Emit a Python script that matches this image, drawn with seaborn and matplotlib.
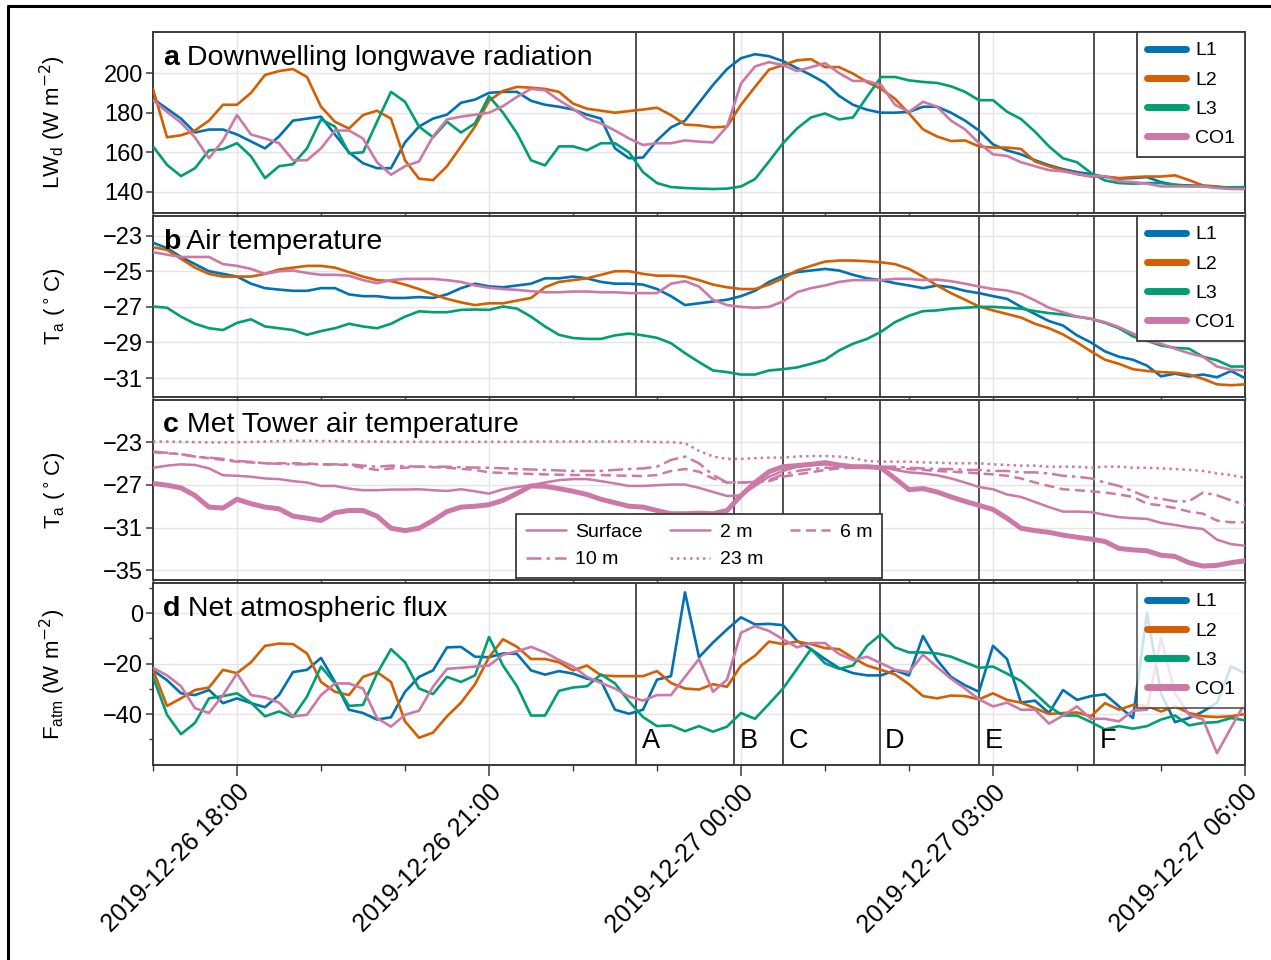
import matplotlib
matplotlib.use("Agg")
import matplotlib.pyplot as plt
import matplotlib.dates as mdates
import matplotlib.ticker as mticker
from matplotlib.lines import Line2D
import numpy as np
import pandas as pd
import seaborn as sns

# 10-minute samples, 2019-12-26 17:00 to 2019-12-27 06:00
times = pd.date_range("2019-12-26 17:00", "2019-12-27 06:00", freq="10min")

sites = ["L1", "L2", "L3", "CO1"]
site_colors = ["#0072B2", "#D55E00", "#009E73", "#CC79A7"]

# Downwelling longwave radiation (W m-2)
lw_L1 = [187, 182, 177, 170, 171.5, 171.5,
         169, 165.5, 162, 168, 176, 177,
         178, 169, 160, 154.5, 152, 152,
         165, 173, 177, 179, 185, 186.6,
         190, 190.5, 190.5, 186, 184, 183,
         181.6, 179, 177, 162, 157, 157.4,
         166, 172.6, 176, 185, 194, 202,
         207.5, 209.5, 208.5, 206, 202.5, 199,
         195, 188.5, 184, 181.5, 180, 180,
         180.4, 183, 183, 180, 176, 171,
         164, 161, 159, 156, 153.5, 151.5,
         150, 149, 147.6, 146.8, 147, 147.5,
         145, 143.5, 143.3, 143, 142.4, 142,
         142]
lw_L2 = [192, 167.6, 168.6, 171, 176, 184,
         184, 190, 199, 201, 202, 198,
         183, 175.4, 172, 178.8, 181, 177,
         156, 146.7, 146, 153, 163, 173,
         186, 191, 193, 192.6, 192, 190.5,
         184.6, 182, 181, 180, 180.8, 181.6,
         182.5, 178.8, 174, 173.6, 172.6, 173,
         184, 193, 201.7, 204, 206.4, 207,
         203, 203, 199.7, 195.5, 192, 187,
         179.6, 171.6, 168, 165.7, 166, 163,
         162.4, 162.4, 161.7, 155.4, 153, 151,
         149, 147.8, 147.8, 147, 147.5, 147.8,
         147.8, 148.4, 146, 143.3, 142.8, 142,
         141.5]
lw_L3 = [163, 153.7, 148, 152, 161, 161.6,
         164.6, 158, 147, 153, 154, 162,
         176.6, 173, 159.5, 160, 175.4, 190.5,
         185.5, 173, 167.6, 175.4, 170, 174.6,
         188.3, 180, 169.6, 156, 153.4, 163,
         163, 161, 164.6, 164.6, 160, 150,
         144.5, 142.5, 142, 141.7, 141.5, 141.7,
         142.8, 146.5, 155.4, 164.6, 172, 177.6,
         179.6, 176.6, 177.6, 188, 198, 198,
         196.3, 195.5, 195, 193.3, 190.5, 186.3,
         186.3, 180.5, 176.8, 170.4, 163, 157,
         155, 149.6, 145.8, 144.5, 144.2, 144.5,
         144.5, 143.7, 143, 143, 142.3, 142.3,
         142.5]
lw_CO1 = [186.3, 180.4, 175, 167.5, 157, 166,
          178.8, 169, 167, 164.6, 156, 156,
          162, 171, 171, 167, 155, 148.7,
          153, 155.4, 168, 176.6, 178, 179,
          180, 183.3, 188, 192, 191.3, 186.3,
          182, 177, 174.6, 171, 167, 163.7,
          164.6, 164.6, 166, 165.4, 165, 173,
          194.7, 203.3, 205.5, 204, 201, 203,
          205, 200, 196, 196, 194, 184,
          180.4, 185.5, 183, 176, 171.6, 164.6,
          159, 158.2, 155, 153, 151, 150.4,
          149.2, 148, 148, 145.4, 145, 144.2,
          142.8, 142.8, 142.8, 142.8, 142, 141.5,
          141.5]

# Air temperature at the sites (deg C)
ta_L1 = [-23.4, -23.7, -24.2, -24.6, -25.0, -25.15,
         -25.3, -25.7, -25.95, -26.03, -26.1, -26.1,
         -25.95, -25.95, -26.3, -26.4, -26.4, -26.5,
         -26.5, -26.45, -26.5, -26.3, -25.95, -25.7,
         -25.85, -25.9, -25.8, -25.7, -25.4, -25.4,
         -25.3, -25.4, -25.6, -25.7, -25.7, -25.75,
         -26.0, -26.4, -26.9, -26.8, -26.7, -26.6,
         -26.4, -26.1, -25.6, -25.25, -25.05, -24.96,
         -24.87, -24.96, -25.2, -25.4, -25.5, -25.67,
         -25.8, -25.95, -25.8, -25.9, -26.1, -26.23,
         -26.4, -26.55, -27.0, -27.4, -27.8, -28.05,
         -28.6, -29.0, -29.5, -29.8, -29.97, -30.3,
         -30.9, -30.75, -30.9, -30.8, -30.95, -30.6,
         -31.0]
ta_L2 = [-23.65, -23.8, -24.3, -24.8, -25.15, -25.3,
         -25.3, -25.3, -25.15, -24.9, -24.8, -24.7,
         -24.7, -24.8, -25.05, -25.3, -25.5, -25.55,
         -25.75, -26.0, -26.3, -26.55, -26.75, -26.9,
         -26.8, -26.8, -26.65, -26.5, -25.9, -25.6,
         -25.5, -25.4, -25.2, -25.0, -25.0, -25.15,
         -25.25, -25.25, -25.3, -25.5, -25.75, -25.9,
         -26.0, -26.0, -25.75, -25.4, -24.96, -24.7,
         -24.46, -24.4, -24.4, -24.44, -24.5, -24.6,
         -24.87, -25.3, -25.8, -26.23, -26.6, -26.98,
         -27.2, -27.4, -27.6, -27.95, -28.2, -28.55,
         -29.0, -29.5, -29.97, -30.2, -30.5, -30.6,
         -30.66, -30.7, -30.8, -31.04, -31.35, -31.4,
         -31.35]
ta_L3 = [-26.98, -27.05, -27.55, -27.95, -28.2, -28.3,
         -27.9, -27.7, -28.1, -28.2, -28.3, -28.57,
         -28.36, -28.2, -27.95, -28.1, -28.2, -27.95,
         -27.55, -27.25, -27.3, -27.3, -27.17, -27.15,
         -27.17, -26.98, -27.1, -27.55, -28.1, -28.57,
         -28.75, -28.8, -28.8, -28.6, -28.5, -28.6,
         -28.74, -29.04, -29.6, -30.1, -30.57, -30.66,
         -30.8, -30.8, -30.57, -30.5, -30.4, -30.2,
         -29.97, -29.45, -29.07, -28.8, -28.4, -27.86,
         -27.5, -27.24, -27.2, -27.1, -27.05, -27.0,
         -27.0, -27.05, -27.1, -27.24, -27.35, -27.43,
         -27.55, -27.67, -27.9, -28.2, -28.66, -28.9,
         -29.17, -29.3, -29.35, -29.8, -30.0, -30.35,
         -30.35]
ta_CO1 = [-23.93, -24.07, -24.2, -24.2, -24.2, -24.6,
          -24.7, -24.87, -25.15, -25.0, -24.96, -25.1,
          -25.2, -25.2, -25.25, -25.5, -25.67, -25.5,
          -25.43, -25.43, -25.43, -25.5, -25.6, -25.8,
          -25.93, -26.0, -26.05, -26.12, -26.18, -26.18,
          -26.14, -26.14, -26.18, -26.18, -26.23, -26.23,
          -26.23, -25.7, -25.56, -25.86, -26.6, -26.9,
          -27.0, -27.05, -27.0, -26.7, -26.18, -25.95,
          -25.8, -25.6, -25.5, -25.5, -25.5, -25.43,
          -25.43, -25.5, -25.47, -25.56, -25.7, -25.86,
          -26.0, -26.08, -26.27, -26.64, -27.05, -27.3,
          -27.55, -27.67, -27.86, -28.14, -28.5, -28.9,
          -29.07, -29.35, -29.6, -29.8, -30.35, -30.53,
          -30.57]

# Met Tower temperatures (deg C)
tower_levels = ["Surface", "2 m", "6 m", "10 m", "23 m"]
tw_surface = [-26.87, -27.03, -27.28, -28.0, -29.08, -29.17,
              -28.35, -28.76, -29.08, -29.24, -29.93, -30.12,
              -30.34, -29.6, -29.4, -29.4, -29.93, -31.06,
              -31.28, -31.06, -30.34, -29.5, -29.08, -29.0,
              -28.86, -28.45, -27.8, -27.1, -27.13, -27.35,
              -27.6, -27.9, -28.35, -28.67, -29.0, -29.08,
              -29.4, -29.7, -29.7, -29.65, -29.7, -29.4,
              -28.0, -26.78, -25.77, -25.3, -25.2, -25.08,
              -24.92, -25.14, -25.3, -25.3, -25.4, -26.4,
              -27.44, -27.35, -27.66, -28.13, -28.54, -28.92,
              -29.3, -30.12, -31.06, -31.28, -31.44, -31.7,
              -31.9, -32.07, -32.3, -32.95, -33.08, -33.17,
              -33.58, -33.7, -34.28, -34.6, -34.53, -34.28,
              -34.1]
tw_2m = [-25.4, -25.2, -25.08, -25.14, -25.46, -26.1,
         -26.15, -26.24, -26.4, -26.46, -26.65, -26.78,
         -27.1, -27.1, -27.35, -27.5, -27.5, -27.44,
         -27.44, -27.41, -27.5, -27.57, -27.41, -27.6,
         -27.82, -27.41, -27.2, -27.03, -26.78, -26.56,
         -26.46, -26.46, -26.65, -26.87, -27.1, -27.1,
         -27.03, -26.97, -26.97, -27.28, -27.66, -28.04,
         -27.98, -27.1, -26.24, -25.7, -25.3, -25.14,
         -25.08, -25.2, -25.3, -25.3, -25.3, -25.6,
         -25.83, -25.93, -26.1, -26.4, -26.78, -27.2,
         -27.41, -27.9, -28.13, -28.6, -29.08, -29.5,
         -29.5, -29.55, -29.8, -30.02, -30.12, -30.18,
         -30.56, -30.75, -30.97, -31.13, -32.13, -32.54,
         -32.7]
tw_6m = [-23.94, -24.04, -24.13, -24.35, -24.5, -24.67,
         -24.83, -24.9, -24.98, -24.98, -24.98, -25.0,
         -25.08, -25.1, -25.14, -25.4, -25.6, -25.46,
         -25.4, -25.3, -25.35, -25.4, -25.5, -25.6,
         -25.83, -25.88, -25.93, -25.98, -26.02, -26.05,
         -26.08, -26.08, -26.08, -26.12, -26.15, -26.18,
         -26.08, -25.7, -25.52, -25.77, -26.4, -26.78,
         -26.78, -26.78, -26.65, -26.24, -26.02, -25.83,
         -25.6, -25.46, -25.4, -25.4, -25.4, -25.52,
         -25.52, -25.6, -25.7, -25.77, -25.83, -25.93,
         -26.02, -26.15, -26.4, -26.78, -27.1, -27.41,
         -27.5, -27.6, -27.72, -27.9, -28.13, -28.76,
         -28.92, -29.17, -29.5, -29.7, -30.34, -30.5,
         -30.5]
tw_10m = [-23.88, -24.0, -24.13, -24.35, -24.45, -24.57,
          -24.76, -24.85, -24.98, -25.03, -25.08, -25.08,
          -25.08, -25.08, -25.08, -25.2, -25.3, -25.2,
          -25.25, -25.3, -25.3, -25.3, -25.35, -25.38,
          -25.4, -25.45, -25.52, -25.56, -25.6, -25.65,
          -25.7, -25.7, -25.7, -25.6, -25.52, -25.46,
          -25.3, -24.67, -24.35, -24.98, -26.08, -26.78,
          -26.78, -26.72, -26.56, -26.02, -25.7, -25.52,
          -25.4, -25.4, -25.4, -25.4, -25.3, -25.3,
          -25.4, -25.46, -25.52, -25.52, -25.6, -25.6,
          -25.7, -25.7, -25.83, -25.83, -25.93, -26.15,
          -26.24, -26.4, -26.78, -27.1, -27.6, -28.13,
          -28.3, -28.54, -28.54, -27.72, -27.98, -28.45,
          -28.86]
tw_23m = [-22.95, -22.95, -22.97, -23.0, -23.02, -23.02,
          -23.0, -22.98, -22.95, -22.9, -22.88, -22.88,
          -22.9, -22.9, -22.92, -22.95, -22.95, -22.97,
          -22.97, -22.97, -22.98, -22.98, -22.98, -22.97,
          -22.97, -22.97, -22.97, -22.96, -22.95, -22.95,
          -22.95, -22.95, -22.95, -22.95, -22.94, -22.94,
          -23.0, -23.0, -23.1, -23.82, -24.35, -24.57,
          -24.57, -24.5, -24.45, -24.45, -24.35, -24.3,
          -24.3, -24.35, -24.5, -24.76, -24.83, -24.83,
          -24.83, -24.9, -24.92, -24.98, -24.98, -24.98,
          -25.08, -25.14, -25.2, -25.2, -25.3, -25.3,
          -25.3, -25.4, -25.3, -25.3, -25.4, -25.4,
          -25.46, -25.52, -25.6, -25.7, -25.93, -26.08,
          -26.34]

# Net atmospheric flux (W m-2)
fa_L1 = [-22.7, -26.6, -31.8, -32.5, -30.5, -35.7,
         -33.8, -35.7, -37.3, -32.5, -23.4, -22.5,
         -17.8, -27.3, -38.3, -39.6, -42.2, -41.3,
         -31.2, -25.3, -22.7, -13.6, -13.4, -17.3,
         -17.5, -16.0, -16.2, -22.7, -24.4, -23.0,
         -24.0, -26.0, -26.9, -38.3, -39.9, -38.3,
         -26.4, -25.0, 8.2, -17.5, -11.7, -6.5,
         -1.7, -4.5, -4.3, -4.8, -11.0, -14.3,
         -18.2, -21.8, -23.8, -24.7, -24.7, -22.7,
         -24.7, -9.1, -18.6, -25.3, -28.6, -31.2,
         -13.0, -18.2, -35.5, -34.7, -39.6, -30.5,
         -34.4, -32.9, -32.2, -37.0, -41.6, 0.0,
         -31.8, -43.2, -41.6, -39.0, -35.5, -21.2,
         -23.8]
fa_L2 = [-22.5, -36.8, -33.8, -30.5, -29.5, -22.5,
         -23.8, -19.5, -13.0, -12.1, -12.3, -16.0,
         -27.3, -31.2, -32.5, -25.3, -23.4, -27.3,
         -42.9, -49.4, -47.4, -40.9, -35.5, -28.2,
         -17.5, -10.4, -13.4, -18.2, -18.2, -19.5,
         -22.7, -20.8, -24.7, -25.0, -25.0, -25.0,
         -23.0, -27.7, -29.9, -30.3, -28.2, -29.2,
         -20.8, -16.9, -11.3, -12.3, -11.3, -12.3,
         -13.9, -14.3, -17.8, -20.8, -22.5, -24.3,
         -28.2, -32.9, -33.8, -32.7, -32.9, -34.2,
         -31.8, -34.4, -35.5, -37.7, -40.0, -39.6,
         -39.4, -40.9, -35.7, -38.3, -36.4, -36.8,
         -39.0, -37.0, -39.6, -40.9, -41.2, -40.9,
         -40.0]
fa_L3 = [-25.3, -40.3, -48.0, -43.5, -33.8, -32.9,
         -31.8, -35.5, -40.9, -39.0, -41.2, -33.1,
         -21.2, -27.9, -36.8, -36.4, -24.0, -14.3,
         -19.5, -29.9, -32.1, -25.3, -27.3, -24.7,
         -9.5, -20.8, -29.0, -40.6, -40.6, -30.8,
         -29.5, -29.0, -24.3, -27.9, -35.0, -41.2,
         -44.8, -44.5, -46.8, -44.8, -47.0, -45.0,
         -39.6, -41.9, -36.0, -29.9, -22.1, -14.3,
         -19.9, -22.1, -20.8, -13.0, -8.4, -13.6,
         -15.6, -15.6, -16.0, -17.3, -19.5, -21.7,
         -21.2, -24.0, -26.9, -31.8, -37.0, -40.6,
         -40.6, -43.2, -46.1, -44.8, -45.8, -44.8,
         -42.2, -40.6, -44.5, -43.5, -43.2, -41.6,
         -42.5]
fa_CO1 = [-21.7, -24.7, -29.0, -37.7, -39.6, -32.5,
          -24.0, -32.5, -33.4, -35.5, -40.9, -40.3,
          -32.5, -27.9, -27.9, -29.9, -41.6, -45.0,
          -40.3, -38.7, -29.2, -22.1, -21.7, -21.2,
          -20.8, -16.5, -15.2, -13.4, -15.6, -18.6,
          -21.2, -25.3, -27.7, -29.9, -33.1, -34.7,
          -32.5, -32.5, -25.3, -18.2, -31.2, -26.4,
          -7.8, -5.2, -7.1, -10.4, -13.6, -11.9,
          -11.9, -16.2, -18.6, -17.3, -19.9, -22.5,
          -23.4, -16.5, -21.4, -26.0, -29.9, -34.2,
          -37.0, -35.5, -38.3, -38.3, -43.8, -40.6,
          -37.0, -41.9, -41.9, -42.9, -38.7, -38.3,
          -9.7, -31.8, -40.3, -42.2, -55.5, -45.5,
          -35.5]

# Event markers
event_labels = ["A", "B", "C", "D", "E", "F"]
event_times = pd.to_datetime(["2019-12-26 22:45", "2019-12-26 23:55",
                              "2019-12-27 00:30", "2019-12-27 01:39",
                              "2019-12-27 02:50", "2019-12-27 04:12"])


def site_frame(series):
    parts = [pd.DataFrame({"time": times, "value": vals, "site": name})
             for name, vals in zip(sites, series)]
    return pd.concat(parts, ignore_index=True)


lw_df = site_frame([lw_L1, lw_L2, lw_L3, lw_CO1])
ta_df = site_frame([ta_L1, ta_L2, ta_L3, ta_CO1])
fa_df = site_frame([fa_L1, fa_L2, fa_L3, fa_CO1])
tower_df = pd.concat(
    [pd.DataFrame({"time": times, "value": v, "level": lev})
     for lev, v in zip(tower_levels, [tw_surface, tw_2m, tw_6m, tw_10m, tw_23m])],
    ignore_index=True)

sns.set_theme(style="white")
plt.rcParams["font.family"] = ["Liberation Sans", "DejaVu Sans"]
plt.rcParams["axes.unicode_minus"] = True
for key in ["text.color", "axes.labelcolor", "xtick.labelcolor", "ytick.labelcolor"]:
    plt.rcParams[key] = "black"

TICK_FS = 17
XTICK_FS = 18
LABEL_FS = 16
TITLE_FS = 20.5
LEG_FS = 14
SPINE_C = "#3a3a3a"
GRID_C = "#e4e4e4"

W, H = 1271, 960
fig = plt.figure(figsize=(W / 100, H / 100), dpi=100)
x0, x1 = 153, 1245
rows = [(32, 213), (216, 397), (400, 580), (583, 765)]
axes = [fig.add_axes([x0 / W, 1 - b / H, (x1 - x0) / W, (b - t) / H]) for t, b in rows]
ax_a, ax_b, ax_c, ax_d = axes

palette = dict(zip(sites, site_colors))
for ax, df in [(ax_a, lw_df), (ax_b, ta_df), (ax_d, fa_df)]:
    sns.lineplot(data=df, x="time", y="value", hue="site", hue_order=sites,
                 palette=palette, estimator=None, linewidth=1.9, ax=ax,
                 legend=False, zorder=3)

pink = "#CC79A7"
tower_styles = {
    "Surface": dict(lw=3.6, dashes=(None, None)),
    "2 m": dict(lw=1.8, dashes=(None, None)),
    "6 m": dict(lw=1.8, dashes=(4.0, 2.2)),
    "10 m": dict(lw=1.8, dashes=(6.0, 2.0, 1.4, 2.0)),
    "23 m": dict(lw=1.8, dashes=(1.0, 1.6)),
}
for lev in tower_levels:
    st = tower_styles[lev]
    sub = tower_df[tower_df["level"] == lev]
    line_kw = {}
    if st["dashes"][0] is not None:
        line_kw["dashes"] = st["dashes"]
    sns.lineplot(data=sub, x="time", y="value", color=pink, estimator=None,
                 linewidth=st["lw"], ax=ax_c, legend=False, zorder=3, **line_kw)

# event lines
for ax in axes:
    for i, t in enumerate(event_times):
        if ax is ax_c and i == 0:
            continue
        ax.axvline(t, color="#202020", lw=1.1, zorder=2.5)

for lab, t in zip(event_labels, event_times):
    ax_d.annotate(lab, xy=(mdates.date2num(t), 0.13),
                  xycoords=ax_d.get_xaxis_transform(),
                  xytext=(4, 0), textcoords="offset points",
                  ha="left", va="center", fontsize=TITLE_FS - 1)

# axes styling
ylims = [(129.4, 220.7), (-32.06, -21.9), (-35.9, -19.06), (-60.2, 11.9)]
yticks = [[140, 160, 180, 200], [-31, -29, -27, -25, -23],
          [-35, -31, -27, -23], [-40, -20, 0]]
ylabels = [r"LW$_\mathregular{d}$ (W m$^{-2}$)", r"T$_\mathregular{a}$ ($^\circ$C)",
           r"T$_\mathregular{a}$ ($^\circ$C)", r"F$_\mathregular{atm}$ (W m$^{-2}$)"]
titles = [("a", " Downwelling longwave radiation"), ("b", " Air temperature"),
          ("c", " Met Tower air temperature"), ("d", " Net atmospheric flux")]

for k, ax in enumerate(axes):
    ax.set_xlim(times[0], times[-1])
    ax.set_ylim(*ylims[k])
    ax.yaxis.set_major_locator(mticker.FixedLocator(yticks[k]))
    ax.xaxis.set_major_locator(mdates.HourLocator(byhour=range(0, 24, 3)))
    ax.xaxis.set_minor_locator(mdates.HourLocator())
    ax.xaxis.set_major_formatter(mdates.DateFormatter("%Y-%m-%d %H:%M"))
    ax.set_axisbelow(True)
    ax.grid(True, which="major", color=GRID_C, lw=1.0)
    for sp in ax.spines.values():
        sp.set_visible(True)
        sp.set_color(SPINE_C)
        sp.set_linewidth(1.4)
    ax.tick_params(axis="y", which="major", direction="out", length=5, width=1.1,
                   color=SPINE_C, labelsize=TICK_FS, pad=2, left=True)
    ax.set_ylabel(ylabels[k], fontsize=LABEL_FS)
    ax.yaxis.set_label_coords(-0.078, 0.5)
    ax.set_xlabel("")
    if k < 3:
        ax.tick_params(axis="x", which="both", direction="out", length=3, width=1.0,
                       color=SPINE_C, labelbottom=False, bottom=True)
    else:
        ax.tick_params(axis="x", which="major", direction="out", length=8, width=1.1,
                       color=SPINE_C, labelsize=XTICK_FS, pad=3, bottom=True)
        ax.tick_params(axis="x", which="minor", direction="out", length=4, width=1.0,
                       color=SPINE_C, bottom=True)
        plt.setp(ax.get_xticklabels(), rotation=45, ha="right",
                 rotation_mode="anchor")
    lead = ax.text(0.009, 0.82, titles[k][0], transform=ax.transAxes,
                   fontsize=TITLE_FS, fontweight="bold", va="baseline", ha="left")
    ax.annotate(titles[k][1], xy=(1, 0), xycoords=lead, va="bottom", ha="left",
                fontsize=TITLE_FS)

ax_d.yaxis.set_minor_locator(mticker.FixedLocator([-50, -30, -10, 10]))
ax_d.tick_params(axis="y", which="minor", direction="out", length=3, width=1.0,
                 color=SPINE_C, left=True)

# site legends
site_handles = [Line2D([0], [0], color=c, lw=5) for c in site_colors]
for ax, alpha in [(ax_a, 1.0), (ax_b, 1.0), (ax_d, 0.8)]:
    leg = ax.legend(site_handles, sites, loc="upper right", fontsize=LEG_FS,
                    frameon=True, fancybox=False, framealpha=alpha,
                    edgecolor=SPINE_C, borderaxespad=0.0, handlelength=2.0,
                    handletextpad=0.5, labelspacing=0.6, borderpad=0.5)
    leg.get_frame().set_linewidth(1.3)
    leg.set_zorder(10)

# tower legend, filled row by row
order = ["Surface", "10 m", "2 m", "23 m", "6 m"]
tower_handles = []
for lev in order:
    st = tower_styles[lev]
    h = Line2D([0], [0], color=pink, lw=1.8)
    if st["dashes"][0] is not None:
        h.set_dashes(st["dashes"])
    tower_handles.append(h)
leg_c = ax_c.legend(tower_handles, order, loc="lower center", ncol=3,
                    fontsize=LEG_FS, frameon=True, fancybox=False, framealpha=1.0,
                    edgecolor=SPINE_C, borderaxespad=0.1, handlelength=2.05,
                    handletextpad=0.5, columnspacing=1.4, labelspacing=0.5,
                    borderpad=0.5)
leg_c.get_frame().set_linewidth(1.3)
leg_c.set_zorder(10)

# outer frame lines on the left and top
fig.add_artist(Line2D([8 / W, 8 / W], [0, 1 - 6 / H], color="black", lw=2.2,
                      transform=fig.transFigure))
fig.add_artist(Line2D([8 / W, 1], [1 - 6 / H, 1 - 6 / H], color="black", lw=2.2,
                      transform=fig.transFigure))

fig.savefig("out.png", dpi=100, facecolor="white")
